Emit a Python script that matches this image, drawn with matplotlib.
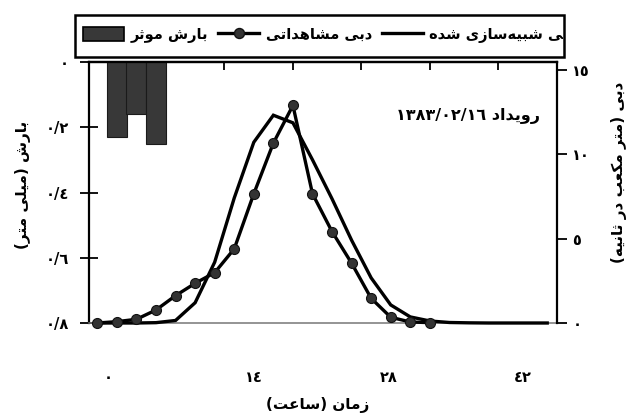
import matplotlib
matplotlib.use('Agg')
import matplotlib.pyplot as plt
from matplotlib import font_manager, ft2font
from matplotlib.lines import Line2D
from matplotlib.patches import Patch, Rectangle
from matplotlib.transforms import Bbox, TransformedBbox

# ---------------- data ----------------
time_obs = [0, 2, 4, 6, 8, 10, 12, 14, 16, 18, 20, 22, 24, 26, 28, 30, 32, 34]
flow_obs = [0, 0.08, 0.22, 0.77, 1.62, 2.35, 2.98, 4.39, 7.65, 10.65, 12.88,
            7.65, 5.41, 3.54, 1.46, 0.34, 0.06, 0.02]
time_sim = [0, 2, 4, 6, 8, 10, 12, 14, 16, 18, 20, 22, 24, 26, 28, 30, 32, 34,
            36, 38, 40, 42, 44, 46]
flow_sim = [0, 0, 0, 0.02, 0.15, 1.2, 3.6, 7.4, 10.7, 12.3, 11.85, 9.66, 7.35,
            4.9, 2.67, 1.07, 0.36, 0.12, 0.03, 0.01, 0, 0, 0, 0]
rain_time = [2, 4, 6]
rain_depth = [0.23, 0.16, 0.25]

rain_ticks = [0, 0.2, 0.4, 0.6, 0.8]
flow_ticks = [0, 5, 10, 15]
time_labels = ['0', '14', '28', '42']

legend_labels = ['بارش موثر', 'دبی مشاهداتی', 'دبی شبیه‌سازی شده']
event_label = 'رویداد 1383/02/16'
xlabel_text = 'زمان (ساعت)'
ylabel_left = 'بارش (میلی متر)'
ylabel_right = 'دبی (متر مکعب در ثانیه)'

# ---------------- minimal Persian shaping ----------------
AR = {
    '\u0627': ('\uFE8D', '\uFE8E', None, None),
    '\u0628': ('\uFE8F', '\uFE90', '\uFE91', '\uFE92'),
    '\u062A': ('\uFE95', '\uFE96', '\uFE97', '\uFE98'),
    '\u062B': ('\uFE99', '\uFE9A', '\uFE9B', '\uFE9C'),
    '\u062F': ('\uFEA9', '\uFEAA', None, None),
    '\u0631': ('\uFEAD', '\uFEAE', None, None),
    '\u0632': ('\uFEAF', '\uFEB0', None, None),
    '\u0633': ('\uFEB1', '\uFEB2', '\uFEB3', '\uFEB4'),
    '\u0634': ('\uFEB5', '\uFEB6', '\uFEB7', '\uFEB8'),
    '\u0639': ('\uFEC9', '\uFECA', '\uFECB', '\uFECC'),
    '\u0644': ('\uFEDD', '\uFEDE', '\uFEDF', '\uFEE0'),
    '\u0645': ('\uFEE1', '\uFEE2', '\uFEE3', '\uFEE4'),
    '\u0646': ('\uFEE5', '\uFEE6', '\uFEE7', '\uFEE8'),
    '\u0647': ('\uFEE9', '\uFEEA', '\uFEEB', '\uFEEC'),
    '\u0648': ('\uFEED', '\uFEEE', None, None),
    '\u06CC': ('\uFBFC', '\uFBFD', '\uFBFE', '\uFBFF'),
    '\u06A9': ('\uFB8E', '\uFB8F', '\uFB90', '\uFB91'),
}
FALLBACK = {'\uFBFC': '\uFEEF', '\uFBFD': '\uFEF0', '\uFBFE': '\uFEF3',
            '\uFBFF': '\uFEF4', '\uFB8E': '\uFED9', '\uFB8F': '\uFEDA',
            '\uFB90': '\uFEDB', '\uFB91': '\uFEDC'}
NORMAL = {'\u064A': '\u06CC', '\u0649': '\u06CC', '\u0643': '\u06A9'}
AR_DIGITS = '٠١٢٣٤٥٦٧٨٩'

def pick_font():
    for weight in ('bold', 'normal'):
        path = font_manager.findfont(
            font_manager.FontProperties(family='DejaVu Sans', weight=weight))
        cmap = ft2font.FT2Font(path).get_charmap()
        if 0xFEB5 in cmap and 0x0661 in cmap:
            return weight, cmap
    return 'normal', cmap

WEIGHT, CMAP = pick_font()

def glyph(ch):
    if ord(ch) in CMAP:
        return ch
    fb = FALLBACK.get(ch)
    if fb and ord(fb) in CMAP:
        return fb
    return ch

def to_ar_digits(s):
    return ''.join(AR_DIGITS[int(c)] if c.isdigit() and c.isascii() else c for c in s)

def shape(s):
    s = ''.join(NORMAL.get(c, c) for c in to_ar_digits(s))
    out = []
    for i, c in enumerate(s):
        if c == '\u200c':
            continue
        if c not in AR:
            out.append(c)
            continue
        prev = s[i - 1] if i > 0 else None
        nxt = s[i + 1] if i + 1 < len(s) else None
        jp = prev in AR and AR[prev][2] is not None
        jn = AR[c][2] is not None and nxt in AR
        f = AR[c]
        if jp and jn:
            g = f[3]
        elif jp:
            g = f[1]
        elif jn:
            g = f[2]
        else:
            g = f[0]
        out.append(glyph(g))
    runs = []
    ltr = set(AR_DIGITS) | set('0123456789/')
    for c in out:
        kind = c in ltr
        if runs and runs[-1][0] == kind:
            runs[-1][1].append(c)
        else:
            runs.append((kind, [c]))
    mirror = {'(': ')', ')': '('}
    res = ''
    for kind, chars in reversed(runs):
        if kind:
            res += ''.join(chars)
        else:
            res += ''.join(mirror.get(c, c) for c in reversed(chars))
    return res

def num_label(v):
    if v == 0:
        return to_ar_digits('0')
    return to_ar_digits(('%.1f' % v).replace('.', '/'))

plt.rcParams['font.family'] = ['DejaVu Sans']
plt.rcParams['font.weight'] = WEIGHT

# ---------------- figure ----------------
W, H = 629, 413
fig = plt.figure(figsize=(W / 100, H / 100), dpi=100)
L, R, T, B = 89, 557, 62, 323
ax1 = fig.add_axes([L / W, 1 - B / H, (R - L) / W, (B - T) / H])
ax2 = ax1.twinx()

ax1.bar(rain_time, rain_depth, width=2.05, color='#383838', edgecolor='#1a1a1a',
        linewidth=0.8, zorder=2)
ax1.set_ylim(0.8, 0)
ax1.set_xlim(-0.85, 47.0)

ax2.plot(time_sim, flow_sim, color='black', lw=2.4, zorder=3, clip_on=False,
         solid_joinstyle='miter')
ax2.plot(time_obs, flow_obs, color='black', lw=2.4, marker='o', markersize=7.2,
         markerfacecolor='#333333', markeredgecolor='#111111', markeredgewidth=0.8,
         zorder=4, clip_on=False)
ax2.set_ylim(0, 15.45)

# spines
for sp in ('left', 'top'):
    ax1.spines[sp].set_linewidth(1.6)
ax1.spines['right'].set_visible(False)
ax1.spines['bottom'].set_linewidth(1.1)
ax1.spines['bottom'].set_color('#777777')
for sp in ('left', 'top', 'bottom'):
    ax2.spines[sp].set_visible(False)
ax2.spines['right'].set_linewidth(1.6)

ax1.set_yticks(rain_ticks)
ax1.set_yticklabels([num_label(v) for v in rain_ticks])
ax1.tick_params(axis='y', direction='inout', length=13, width=1.3, pad=8,
                labelsize=10.5)

ax2.set_yticks(flow_ticks)
ax2.set_yticklabels([to_ar_digits(str(v)) for v in flow_ticks])
ax2.tick_params(axis='y', direction='out', length=7, width=1.3, pad=4,
                labelsize=10.5)

ax1.set_xticks([1.1, 16.0, 29.8, 43.5])
ax1.set_xticklabels([to_ar_digits(s) for s in time_labels])
ax1.tick_params(axis='x', length=0, pad=34, labelsize=10.5)

top = ax1.secondary_xaxis('top')
top.set_xticks([6, 13, 20, 27, 34, 41])
top.set_xticklabels([])
top.tick_params(direction='in', length=6, width=1.3)
top.spines['top'].set_linewidth(1.6)

# texts
fig.text(540 / W, 1 - 116 / H, shape(event_label), ha='right', va='center',
         fontsize=11.5, weight=WEIGHT)
fig.text(318 / W, 1 - 405 / H, shape(xlabel_text), ha='center', va='center',
         fontsize=11, weight=WEIGHT)
fig.text(23 / W, 1 - 185 / H, shape(ylabel_left), ha='center', va='center',
         rotation=90, fontsize=11, weight=WEIGHT)
fig.text(619 / W, 1 - 172 / H, shape(ylabel_right), ha='center', va='center',
         rotation=90, fontsize=11, weight=WEIGHT)

# legend frame + entries
LX0, LY0, LX1, LY1 = 75, 15, 564, 57
frame = Rectangle((LX0 / W, 1 - LY1 / H), (LX1 - LX0) / W, (LY1 - LY0) / H,
                  transform=fig.transFigure, facecolor='white', edgecolor='black',
                  linewidth=1.8, zorder=1)
fig.patches.append(frame)

handles = [Patch(facecolor='#383838', edgecolor='black', linewidth=1.2),
           Line2D([], [], color='black', lw=2.4, marker='o', markersize=7.2,
                  markerfacecolor='#333333', markeredgecolor='#111111'),
           Line2D([], [], color='black', lw=2.4)]
leg = fig.legend(handles, [shape(s) for s in legend_labels], ncol=3,
                 loc='center left', bbox_to_anchor=(83 / W, 1 - 35 / H),
                 borderaxespad=0, borderpad=0, frameon=False,
                 prop={'size': 10.5, 'weight': WEIGHT}, handlelength=2.8,
                 handleheight=1.0, handletextpad=0.45, columnspacing=0.7)
leg.set_zorder(2)
clip = TransformedBbox(Bbox([[(LX0 + 1) / W, 1 - LY1 / H], [(LX1 - 1) / W, 1 - LY0 / H]]),
                       fig.transFigure)
for t in leg.get_texts():
    t.set_clip_box(clip)
    t.set_clip_on(True)

fig.savefig('out.png', dpi=100)
